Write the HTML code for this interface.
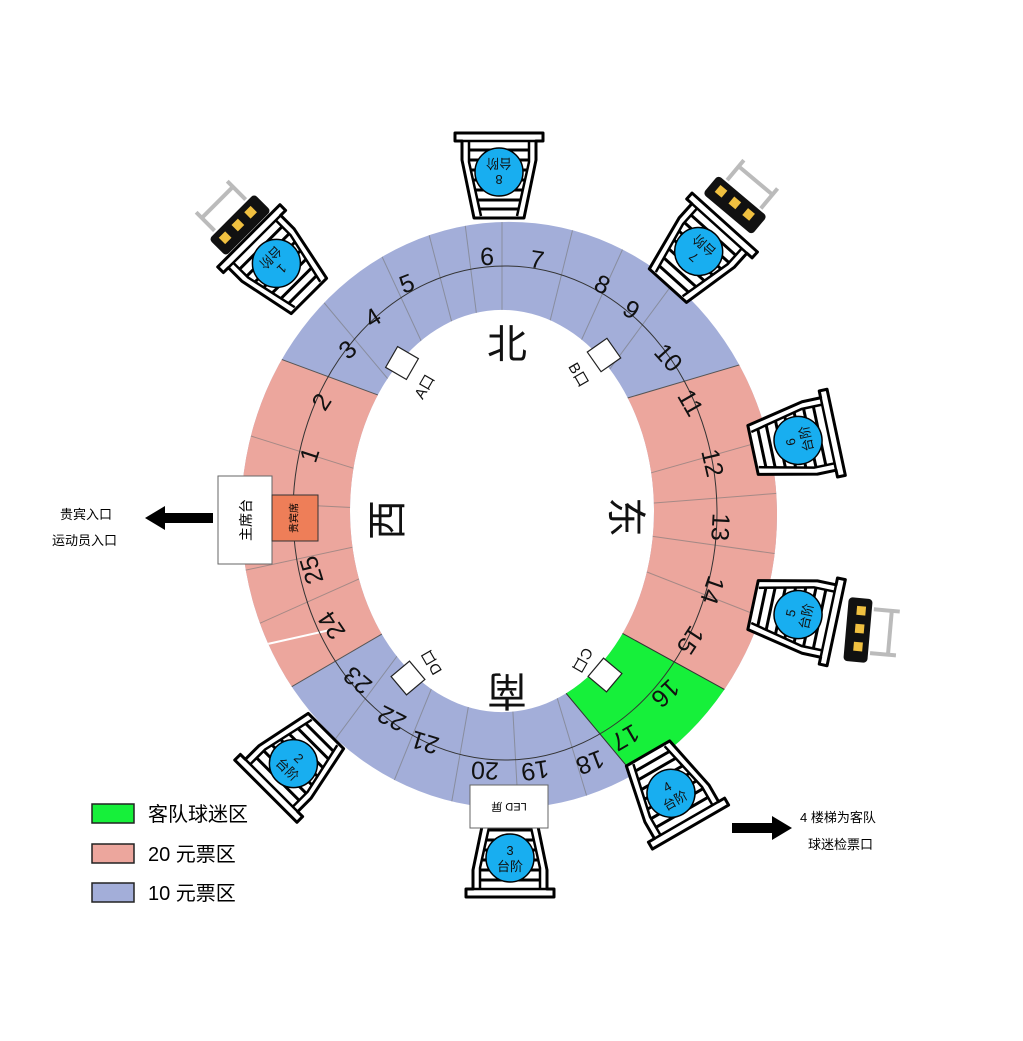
<!DOCTYPE html>
<html><head><meta charset="utf-8"><style>
html,body{margin:0;padding:0;background:#fff;}
svg{display:block;font-family:"Liberation Sans","Noto Sans CJK SC",sans-serif;}
</style></head><body>
<svg width="1023" height="1041" viewBox="0 0 1023 1041" xmlns="http://www.w3.org/2000/svg">
<defs>
<clipPath id="ring"><path clip-rule="evenodd" d="M241,515 a268,293 0 1,0 536,0 a268,293 0 1,0 -536,0 Z M350,511 a152,201 0 1,0 304,0 a152,201 0 1,0 -304,0 Z"/></clipPath>
<g id="stair">
<polygon points="-44,-37 44,-37 44,-29 37,-29 37,-10 25,48 -25,48 -37,-10 -37,-29 -44,-29" fill="#fff" stroke="#000" stroke-width="3" stroke-linejoin="round"/>
<polyline points="-30,-29 -30,-8 -18,46" fill="none" stroke="#000" stroke-width="2.5"/>
<polyline points="30,-29 30,-8 18,46" fill="none" stroke="#000" stroke-width="2.5"/>
<line x1="-37" y1="-29" x2="37" y2="-29" stroke="#000" stroke-width="2.5"/>
<line x1="-30" y1="-20" x2="30" y2="-20" stroke="#000" stroke-width="3"/>
<line x1="-30" y1="-10" x2="30" y2="-10" stroke="#000" stroke-width="3"/>
<line x1="-28" y1="0" x2="28" y2="0" stroke="#000" stroke-width="3"/>
<line x1="-26" y1="10" x2="26" y2="10" stroke="#000" stroke-width="3"/>
<line x1="-24" y1="20" x2="24" y2="20" stroke="#000" stroke-width="3"/>
<line x1="-22" y1="30" x2="22" y2="30" stroke="#000" stroke-width="3"/>
<line x1="-20" y1="39" x2="20" y2="39" stroke="#000" stroke-width="3"/>
<circle cx="0" cy="2" r="24" fill="#18aef0" stroke="#000" stroke-width="1.5"/>
</g>
<g id="gate">
<rect x="-32" y="-12" width="64" height="24" rx="4" fill="#111"/>
<rect x="-24" y="-6" width="9" height="9" fill="#f0c040"/>
<rect x="-6" y="-6" width="9" height="9" fill="#f0c040"/>
<rect x="12" y="-6" width="9" height="9" fill="#f0c040"/>
<line x1="-22" y1="-14" x2="-22" y2="-40" stroke="#bbb" stroke-width="4"/>
<line x1="22" y1="-14" x2="22" y2="-40" stroke="#bbb" stroke-width="4"/>
<line x1="-22" y1="-32" x2="22" y2="-32" stroke="#bbb" stroke-width="4"/>
</g>
</defs>

<g clip-path="url(#ring)">
<rect x="200" y="200" width="620" height="640" fill="#a3aed9"/>
<polygon points="451,422 202,330 150,330 150,740 226,725 406,620" fill="#eca69d"/>
<polygon points="560,418 810,344 850,344 850,760 800,731 560,599" fill="#eca69d"/>
<polygon points="560,599 800,731 850,760 760,850 680,830 530,650" fill="#16f03a"/>
<g stroke="#777" stroke-width="1" opacity="0.6">
<line x1="502" y1="515" x2="420" y2="200"/><line x1="502" y1="515" x2="462" y2="200"/>
<line x1="502" y1="515" x2="502" y2="200"/><line x1="502" y1="515" x2="580" y2="200"/>
<line x1="502" y1="515" x2="645" y2="200"/><line x1="502" y1="515" x2="705" y2="240"/>
<line x1="502" y1="515" x2="365" y2="220"/><line x1="502" y1="515" x2="305" y2="280"/>
<line x1="502" y1="515" x2="200" y2="420"/><line x1="502" y1="515" x2="200" y2="500"/>
<line x1="502" y1="515" x2="200" y2="580"/><line x1="502" y1="515" x2="200" y2="650"/>
<line x1="502" y1="515" x2="820" y2="425"/><line x1="502" y1="515" x2="820" y2="490"/>
<line x1="502" y1="515" x2="820" y2="560"/><line x1="502" y1="515" x2="820" y2="640"/>
<line x1="502" y1="515" x2="520" y2="840"/><line x1="502" y1="515" x2="445" y2="840"/>
<line x1="502" y1="515" x2="370" y2="840"/><line x1="502" y1="515" x2="290" y2="800"/>
<line x1="502" y1="515" x2="600" y2="840"/>
</g>
<line x1="451" y1="422" x2="202" y2="330" stroke="#555" stroke-width="1"/>
<line x1="560" y1="418" x2="810" y2="344" stroke="#555" stroke-width="1"/>
<line x1="406" y1="620" x2="226" y2="725" stroke="#555" stroke-width="1"/>
<line x1="560" y1="599" x2="800" y2="731" stroke="#333" stroke-width="1"/>
<line x1="530" y1="650" x2="680" y2="830" stroke="#333" stroke-width="1"/>
<line x1="263" y1="645" x2="330" y2="630" stroke="#fff" stroke-width="2"/>
</g>
<ellipse cx="505" cy="513" rx="212" ry="247" fill="none" stroke="#333" stroke-width="1"/>

<g font-size="25" fill="#111" text-anchor="middle" dominant-baseline="central">
<text transform="translate(348,350) rotate(-42)">3</text>
<text transform="translate(373,318) rotate(-32)">4</text>
<text transform="translate(407,284) rotate(-21)">5</text>
<text transform="translate(487,257) rotate(-2)">6</text>
<text transform="translate(537,260) rotate(9)">7</text>
<text transform="translate(602,285) rotate(25)">8</text>
<text transform="translate(631,310) rotate(34)">9</text>
<text transform="translate(668,358) rotate(48)">10</text>
<text transform="translate(690,403) rotate(60)">11</text>
<text transform="translate(712,463) rotate(77)">12</text>
<text transform="translate(720,527) rotate(93)">13</text>
<text transform="translate(712,590) rotate(109)">14</text>
<text transform="translate(690,640) rotate(123)">15</text>
<text transform="translate(665,693) rotate(136)">16</text>
<text transform="translate(625,737) rotate(150)">17</text>
<text transform="translate(590,762) rotate(159)">18</text>
<text transform="translate(535,770) rotate(171)">19</text>
<text transform="translate(485,770) rotate(182)">20</text>
<text transform="translate(425,742) rotate(197)">21</text>
<text transform="translate(392,718) rotate(207)">22</text>
<text transform="translate(358,680) rotate(220)">23</text>
<text transform="translate(332,625) rotate(236)">24</text>
<text transform="translate(312,570) rotate(253)">25</text>
<text transform="translate(310,455) rotate(-72)">1</text>
<text transform="translate(322,402) rotate(-57)">2</text>
</g>

<g font-size="40" fill="#111" text-anchor="middle" dominant-baseline="central">
<text transform="translate(507,345)">北</text>
<text transform="translate(625,517) rotate(90)">东</text>
<text transform="translate(507,690) rotate(180)">南</text>
<text transform="translate(388,520) rotate(-90)">西</text>
</g>

<g fill="#fff" stroke="#222" stroke-width="1.2">
<rect x="-12" y="-12" width="24" height="24" transform="translate(402,363) rotate(30)"/>
<rect x="-12" y="-12" width="24" height="24" transform="translate(604,355) rotate(-35)"/>
<rect x="-12" y="-12" width="24" height="24" transform="translate(605,675) rotate(40)"/>
<rect x="-12" y="-12" width="24" height="24" transform="translate(408,678) rotate(-40)"/>
</g>
<g font-size="15" fill="#111" text-anchor="middle" dominant-baseline="central">
<text transform="translate(425,387) rotate(-60)">A口</text>
<text transform="translate(578,375) rotate(60)">B口</text>
<text transform="translate(582,660) rotate(120)">C口</text>
<text transform="translate(432,662) rotate(-120)">D口</text>
</g>

<rect x="218" y="476" width="54" height="88" fill="#fff" stroke="#666"/>
<text transform="translate(246,520) rotate(-90)" font-size="14" text-anchor="middle" dominant-baseline="central">主席台</text>
<rect x="272" y="495" width="46" height="46" fill="#ee7e58" stroke="#333"/>
<text transform="translate(295,518) rotate(-90)" font-size="10" text-anchor="middle" dominant-baseline="central">贵宾席</text>

<g font-size="13" fill="#111" text-anchor="middle">
<g transform="translate(499,170)"><use href="#stair"/><text transform="translate(0,2) rotate(180)"><tspan x="0" y="-3">8</tspan><tspan x="0" y="13">台阶</tspan></text></g>
<g transform="translate(700,250) rotate(42)"><use href="#stair"/><text transform="translate(0,2) rotate(180)"><tspan x="0" y="-3">7</tspan><tspan x="0" y="13">台阶</tspan></text></g>
<g transform="translate(275,262) rotate(-45)"><use href="#stair"/><text transform="translate(0,2) rotate(180)"><tspan x="0" y="-3">1</tspan><tspan x="0" y="13">台阶</tspan></text></g>
<g transform="translate(800,440) rotate(78)"><use href="#stair"/><text transform="translate(0,2) rotate(180)"><tspan x="0" y="-3">6</tspan><tspan x="0" y="13">台阶</tspan></text></g>
<g transform="translate(800,615) rotate(102)"><use href="#stair"/><text transform="translate(0,2) rotate(180)"><tspan x="0" y="-3">5</tspan><tspan x="0" y="13">台阶</tspan></text></g>
<g transform="translate(672,795) rotate(150)"><use href="#stair"/><text transform="translate(0,2) rotate(180)"><tspan x="0" y="-3">4</tspan><tspan x="0" y="13">台阶</tspan></text></g>
<g transform="translate(510,860) rotate(180)"><use href="#stair"/><text transform="translate(0,2) rotate(180)"><tspan x="0" y="-3">3</tspan><tspan x="0" y="13">台阶</tspan></text></g>
<g transform="translate(292,765) rotate(-135)"><use href="#stair"/><text transform="translate(0,2) rotate(180)"><tspan x="0" y="-3">2</tspan><tspan x="0" y="13">台阶</tspan></text></g>
</g>

<rect x="470" y="785" width="78" height="43" fill="#fff" stroke="#666"/>
<text transform="translate(509,806) rotate(180)" font-size="11" text-anchor="middle" dominant-baseline="central">LED 屏</text>

<g transform="translate(240,225) rotate(-45)"><use href="#gate"/></g>
<g transform="translate(735,205) rotate(40)"><use href="#gate"/></g>
<g transform="translate(858,630) rotate(95)"><use href="#gate"/></g>

<polygon points="145,518 165,506 165,513 213,513 213,523 165,523 165,530" fill="#000"/>
<text x="60" y="519" font-size="13">贵宾入口</text>
<text x="52" y="545" font-size="13">运动员入口</text>
<polygon points="792,828 772,816 772,823 732,823 732,833 772,833 772,840" fill="#000"/>
<text x="800" y="822" font-size="13">4 楼梯为客队</text>
<text x="808" y="849" font-size="13">球迷检票口</text>

<rect x="92" y="804" width="42" height="19" fill="#16f03a" stroke="#222" stroke-width="1.5"/>
<rect x="92" y="844" width="42" height="19" fill="#eca69d" stroke="#222" stroke-width="1.5"/>
<rect x="92" y="883" width="42" height="19" fill="#a3aed9" stroke="#222" stroke-width="1.5"/>
<text x="148" y="821" font-size="20">客队球迷区</text>
<text x="148" y="861" font-size="20">20 元票区</text>
<text x="148" y="900" font-size="20">10 元票区</text>
</svg>
</body></html>
